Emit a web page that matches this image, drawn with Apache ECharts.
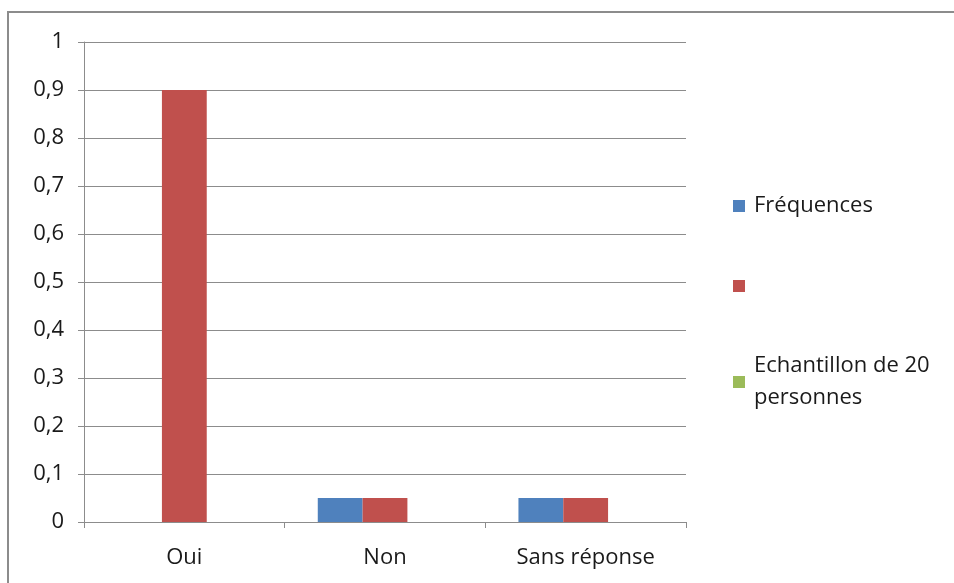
<!DOCTYPE html>
<html>
<head>
<meta charset="utf-8">
<script src="https://cdn.jsdelivr.net/npm/echarts@6/dist/echarts.min.js"></script>
<style>
  html, body { margin: 0; padding: 0; background: #fff; }
  #main { width: 954px; height: 583px; }
</style>
</head>
<body>
<div id="main"></div>
<script>
// données
var categories = ['Oui', 'Non', 'Sans réponse'];
var frequences = [0, 0.05, 0.05];
var serie2 = [0.9, 0.05, 0.05];
var echantillon = [null, null, null];
var yTicks = [0, 0.1, 0.2, 0.3, 0.4, 0.5, 0.6, 0.7, 0.8, 0.9, 1];

var font = '"Open Sans", sans-serif';
var myChart = echarts.init(document.getElementById('main'));

myChart.setOption({
  backgroundColor: '#fff',
  animation: false,
  graphic: [{
    type: 'rect',
    shape: { x: 8, y: 12, width: 1000, height: 1000 },
    style: { fill: 'none', stroke: '#8c8c8c', lineWidth: 2 },
    silent: true
  }],
  grid: { left: 84, top: 42, right: 268, bottom: 61 },
  legend: {
    orient: 'vertical',
    left: 728,
    top: 185,
    itemWidth: 12,
    itemHeight: 12,
    itemGap: 48,
    icon: 'rect',
    textStyle: { fontFamily: font, fontSize: 22, color: '#1a1a1a', lineHeight: 32, padding: [0, 0, 0, 4] },
    formatter: function (name) {
      return name === 'Echantillon de 20 personnes' ? 'Echantillon de 20\npersonnes' : name;
    },
    data: ['Fréquences', ' ', 'Echantillon de 20 personnes']
  },
  xAxis: {
    type: 'category',
    data: categories,
    axisLine: { lineStyle: { color: '#8c8c8c', width: 1 } },
    axisTick: { show: true, length: 6, lineStyle: { color: '#8c8c8c' } },
    axisLabel: { fontFamily: font, fontSize: 22, color: '#1a1a1a', margin: 25 }
  },
  yAxis: {
    type: 'value',
    min: 0,
    max: 1,
    interval: 0.1,
    axisLine: { show: true, lineStyle: { color: '#8c8c8c', width: 1 } },
    axisTick: { show: true, length: 6, lineStyle: { color: '#8c8c8c' } },
    splitLine: { lineStyle: { color: '#8c8c8c', width: 1 } },
    axisLabel: {
      fontFamily: font, fontSize: 22, color: '#1a1a1a', margin: 20,
      formatter: function (v) {
        var t = yTicks.find(function (x) { return Math.abs(x - v) < 1e-9; });
        return String(t !== undefined ? t : v).replace('.', ',');
      }
    }
  },
  series: [
    { name: 'Fréquences', type: 'bar', data: frequences, barGap: '0%', barCategoryGap: '33%', itemStyle: { color: '#4F81BD' } },
    { name: ' ', type: 'bar', data: serie2, itemStyle: { color: '#C0504D' } },
    { name: 'Echantillon de 20 personnes', type: 'bar', data: echantillon, itemStyle: { color: '#9BBB59' } }
  ]
});
</script>
</body>
</html>
